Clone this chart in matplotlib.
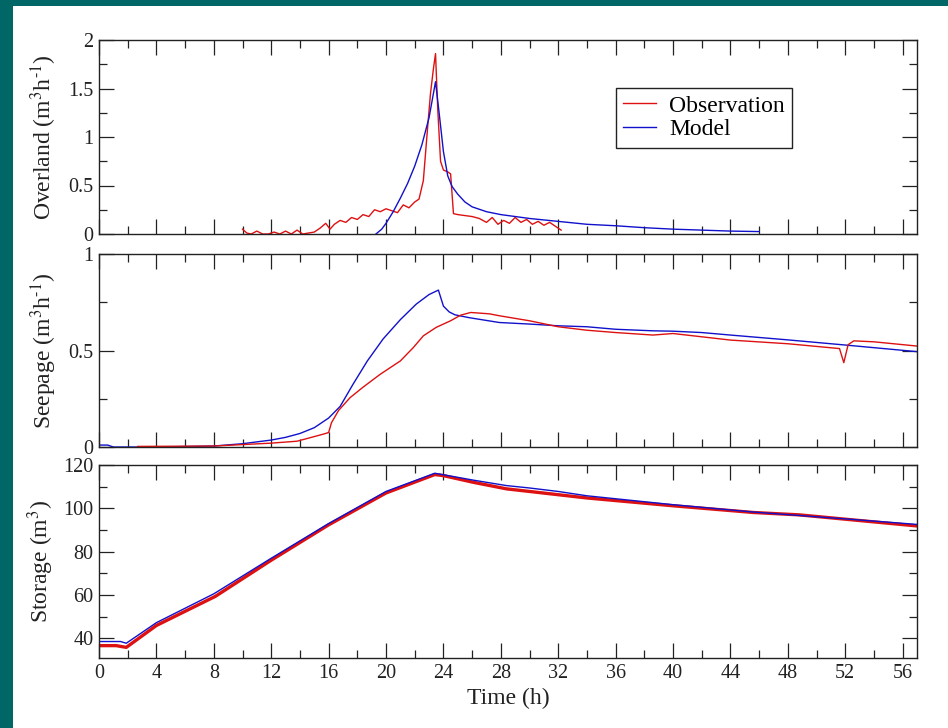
import numpy as np
import matplotlib
matplotlib.use('Agg')
import matplotlib.pyplot as plt
from matplotlib.ticker import MultipleLocator, FormatStrFormatter
from matplotlib.patches import Rectangle

plt.rcParams['font.family'] = ['Liberation Serif', 'DejaVu Serif']
plt.rcParams['mathtext.fontset'] = 'stix'

# overland flow (top panel)
t_over_obs = [10.0, 10.3, 10.6, 11.0, 11.4, 11.8, 12.2, 12.6, 13.0, 13.4, 13.8, 14.2, 14.6,
              15.0, 15.4, 15.8, 16.1, 16.4, 16.8, 17.2, 17.6, 18.0, 18.4, 18.8, 19.2, 19.6,
              20.0, 20.4, 20.8, 21.2, 21.6, 22.0, 22.3, 22.6, 22.9, 23.1, 23.3, 23.45, 23.6,
              23.8, 24.0, 24.3, 24.5, 24.7, 25.0, 25.5, 26.0, 26.5, 27.0, 27.4, 27.8, 28.2,
              28.6, 29.0, 29.4, 29.8, 30.2, 30.6, 31.0, 31.4, 31.8, 32.2]
q_over_obs = [0.05, 0.01, 0.0, 0.03, 0.0, 0.0, 0.02, 0.0, 0.03, 0.0, 0.04, 0.0, 0.01,
              0.02, 0.06, 0.11, 0.05, 0.1, 0.14, 0.12, 0.17, 0.15, 0.2, 0.18, 0.25, 0.23,
              0.26, 0.24, 0.22, 0.3, 0.27, 0.33, 0.36, 0.55, 1.1, 1.45, 1.7, 1.86, 1.3,
              0.75, 0.66, 0.64, 0.62, 0.21, 0.2, 0.19, 0.18, 0.16, 0.12, 0.17, 0.1, 0.14,
              0.11, 0.17, 0.12, 0.15, 0.1, 0.13, 0.09, 0.12, 0.08, 0.04]
t_over_mod = [19.3, 19.7, 20.0, 20.5, 21.0, 21.5, 22.0, 22.5, 23.0, 23.45, 23.7, 24.0, 24.3,
              24.6, 25.0, 25.5, 26.0, 27.0, 28.0, 30.0, 32.0, 34.0, 36.0, 38.0, 40.0, 42.0,
              44.0, 46.0]
q_over_mod = [0.0, 0.05, 0.11, 0.23, 0.37, 0.52, 0.7, 0.92, 1.2, 1.57, 1.25, 0.85, 0.6,
              0.49, 0.41, 0.33, 0.28, 0.23, 0.2, 0.16, 0.13, 0.1, 0.085, 0.065, 0.05, 0.04,
              0.03, 0.025]

# seepage (middle panel)
t_seep_obs = [2.7, 8, 12, 13.8, 15.6, 16.0, 16.2, 16.7, 17.5, 18.4, 19.6, 21.0, 21.9, 22.6,
              23.5, 24.5, 25.2, 25.9, 27.2, 27.9, 30, 32, 34, 36, 38.6, 40, 42, 44, 48,
              51.6, 51.9, 52.2, 52.6, 54, 57]
q_seep_obs = [0.003, 0.005, 0.02, 0.03, 0.066, 0.075, 0.126, 0.19, 0.256, 0.31, 0.377, 0.446,
              0.515, 0.576, 0.62, 0.654, 0.683, 0.697, 0.69, 0.68, 0.654, 0.623, 0.605, 0.593,
              0.58, 0.588, 0.571, 0.554, 0.535, 0.51, 0.437, 0.53, 0.55, 0.545, 0.523]
t_seep_mod = [0, 0.6, 1.0, 4, 8, 10, 12, 13, 14, 15, 16, 16.8, 17.7, 18.7, 19.8, 21, 22.1,
              23.0, 23.65, 24.0, 24.4, 24.8, 25.8, 27.9, 30, 32, 34, 36, 38.6, 40, 42, 44,
              48, 52.2, 57]
q_seep_mod = [0.01, 0.01, 0.0, 0.0, 0.005, 0.017, 0.036, 0.05, 0.07, 0.1, 0.15, 0.21, 0.325,
              0.446, 0.56, 0.66, 0.74, 0.79, 0.813, 0.73, 0.7, 0.685, 0.67, 0.645, 0.637,
              0.628, 0.623, 0.61, 0.602, 0.6, 0.593, 0.58, 0.555, 0.527, 0.494]

# storage (bottom panel)
t_stor_obs = [0, 1.2, 1.9, 4, 8.1, 12, 16, 20, 23.4, 24, 26.1, 28.4, 30, 32, 34, 40, 45.6,
              48.8, 52.5, 57]
v_stor_obs = [36.7, 36.7, 35.9, 46, 59.4, 76.1, 92.4, 107.1, 115.6, 115.1, 112, 109, 107.8,
              106.3, 104.8, 101.2, 98.1, 97, 94.7, 91.9]
t_stor_mod = [0, 1.5, 1.9, 4, 8, 12, 16, 20, 23.4, 24, 26.1, 28.4, 30, 32, 34, 40, 45.6,
              52.5, 57]
v_stor_mod = [38.6, 38.6, 37.8, 47.3, 60.6, 77, 93, 107.8, 116.2, 115.5, 113, 110.5, 109.4,
              107.8, 105.8, 101.7, 98.3, 94.9, 92.6]

RED = '#dd1111'
BLUE = '#1111cc'

fig = plt.figure(figsize=(9.48, 7.28), dpi=100, facecolor='#006666')
fig.patches.append(Rectangle((13 / 948, 0), 1, 1 - 6 / 728, transform=fig.transFigure,
                             facecolor='white', edgecolor='none', zorder=-10))

left, width = 99 / 948, 818 / 948
ax1 = fig.add_axes([left, 1 - 234 / 728, width, 194 / 728])
ax2 = fig.add_axes([left, 1 - 447 / 728, width, 193 / 728])
ax3 = fig.add_axes([left, 1 - 658 / 728, width, 193 / 728])

ax1.plot(t_over_obs, q_over_obs, color=RED, lw=1.0, label='Observation')
ax1.plot(t_over_mod, q_over_mod, color=BLUE, lw=1.0, label='Model')
ax2.plot(t_seep_mod, q_seep_mod, color=BLUE, lw=1.0)
ax2.plot(t_seep_obs, q_seep_obs, color=RED, lw=1.0)
ax3.plot(t_stor_obs, v_stor_obs, color=RED, lw=2.4)
ax3.plot(t_stor_mod, v_stor_mod, color=BLUE, lw=1.0)

ax1.set_ylim(0, 2)
ax1.yaxis.set_major_locator(MultipleLocator(0.5))
ax1.yaxis.set_minor_locator(MultipleLocator(0.25))
ax2.set_ylim(0, 1)
ax2.yaxis.set_major_locator(MultipleLocator(0.5))
ax2.yaxis.set_minor_locator(MultipleLocator(0.25))
ax3.set_ylim(31, 120)
ax3.yaxis.set_major_locator(MultipleLocator(20))
ax3.yaxis.set_minor_locator(MultipleLocator(10))

for ax in (ax1, ax2, ax3):
    ax.set_xlim(0, 57)
    ax.xaxis.set_major_locator(MultipleLocator(4))
    ax.xaxis.set_minor_locator(MultipleLocator(2))
    ax.yaxis.set_major_formatter(FormatStrFormatter('%g'))
    ax.tick_params(which='both', direction='in', top=True, right=True, width=0.9,
                   colors='#222222', labelsize=14.5, labelcolor='#222222')
    ax.tick_params(which='major', length=10.5, pad=4)
    ax.tick_params(which='minor', length=5.5)
    for s in ax.spines.values():
        s.set_linewidth(1.0)
        s.set_color('#222222')

ax1.tick_params(labelbottom=False)
ax2.tick_params(labelbottom=False)

lab = dict(fontsize=17, color='#222222')
ax1.set_ylabel(r'Overland (m$^3$h$^{\text{-}1}$)', **lab)
ax2.set_ylabel(r'Seepage (m$^3$h$^{\text{-}1}$)', **lab)
ax3.set_ylabel('Storage (m$^3$)', **lab)
ax1.yaxis.set_label_coords(-0.049, 0.5)
ax2.yaxis.set_label_coords(-0.049, 0.5)
ax3.yaxis.set_label_coords(-0.052, 0.5)
ax3.set_xlabel('Time (h)', labelpad=4, **lab)

leg = ax1.legend(loc='upper left', bbox_to_anchor=(0.632, 0.753), fontsize=17,
                 frameon=True, fancybox=False, edgecolor='#222222', framealpha=1,
                 handlelength=1.4, handletextpad=0.55, labelspacing=0.1,
                 borderpad=0.3, borderaxespad=0)
leg.get_frame().set_linewidth(1.0)

fig.savefig('out.png', dpi=100, facecolor=fig.get_facecolor())
